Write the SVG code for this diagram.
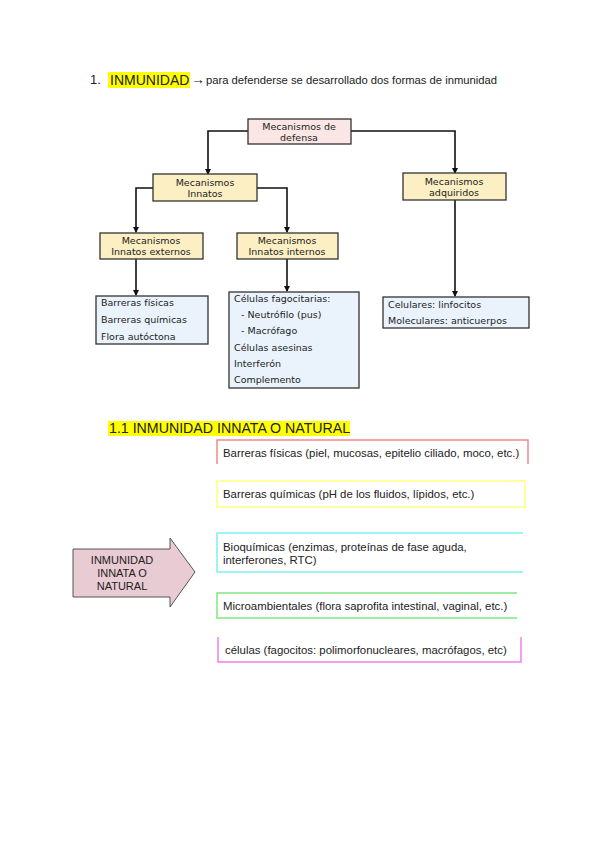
<svg xmlns="http://www.w3.org/2000/svg" width="600" height="848" viewBox="0 0 600 848">
<style>
.d{font-family:"DejaVu Sans",Verdana,sans-serif;font-size:9.5px;fill:#222}
.a{font-family:"Liberation Sans",Arial,sans-serif;fill:#222}
.b{font-size:11.4px}
.nb{stroke:#333;stroke-width:1.3}
.pk{fill:#fbe6e6}
.yl{fill:#fcefc4}
.bl{fill:#eaf3fc}
.ln{fill:none;stroke:#111;stroke-width:1.6}
</style>
<defs>
<marker id="ah" viewBox="0 0 6 6" refX="5" refY="3" markerWidth="4" markerHeight="4" orient="auto">
<path d="M0,0 L6,3 L0,6 z" fill="#111"/>
</marker>
</defs>
<rect width="600" height="848" fill="#fff"/>
<g id="title">
<text class="a" x="90" y="84" font-size="13">1.</text>
<rect x="108" y="72" width="82" height="16" fill="#ffff00"/>
<text class="a" x="110" y="85" font-size="14">INMUNIDAD</text>
<text class="a" x="191" y="84" font-size="14">→</text>
<text class="a" x="206" y="84" font-size="11" textLength="291" lengthAdjust="spacingAndGlyphs">para defenderse se desarrollado dos formas de inmunidad</text>
</g>
<g id="connectors">
<path class="ln" d="M248,131 H208 V174" marker-end="url(#ah)"/>
<path class="ln" d="M351,131 H455 V173" marker-end="url(#ah)"/>
<path class="ln" d="M153,188 H136 V232" marker-end="url(#ah)"/>
<path class="ln" d="M257,188 H287 V232" marker-end="url(#ah)"/>
<path class="ln" d="M136,259 V295" marker-end="url(#ah)"/>
<path class="ln" d="M287,259 V291" marker-end="url(#ah)"/>
<path class="ln" d="M455,200 V296" marker-end="url(#ah)"/>
</g>
<g id="defensa">
<rect class="nb pk" x="248" y="119" width="103" height="25"/>
<text class="d" x="299" y="130" text-anchor="middle">Mecanismos de</text>
<text class="d" x="299" y="141" text-anchor="middle">defensa</text>
</g>
<g id="innatos">
<rect class="nb yl" x="153" y="174" width="104" height="27"/>
<text class="d" x="205" y="186" text-anchor="middle">Mecanismos</text>
<text class="d" x="205" y="197" text-anchor="middle">Innatos</text>
</g>
<g id="adquiridos">
<rect class="nb yl" x="403" y="173" width="103" height="27"/>
<text class="d" x="454" y="185" text-anchor="middle">Mecanismos</text>
<text class="d" x="454" y="196" text-anchor="middle">adquiridos</text>
</g>
<g id="externos">
<rect class="nb yl" x="100" y="233" width="103" height="26"/>
<text class="d" x="151" y="244" text-anchor="middle">Mecanismos</text>
<text class="d" x="151" y="255" text-anchor="middle">Innatos externos</text>
</g>
<g id="internos">
<rect class="nb yl" x="237" y="233" width="101" height="26"/>
<text class="d" x="287" y="244" text-anchor="middle">Mecanismos</text>
<text class="d" x="287" y="255" text-anchor="middle">Innatos internos</text>
</g>
<g id="lista-externos">
<rect class="nb bl" x="96" y="296" width="112" height="48"/>
<text class="d" x="101" y="306">Barreras físicas</text>
<text class="d" x="101" y="323">Barreras químicas</text>
<text class="d" x="101" y="340">Flora autóctona</text>
</g>
<g id="lista-internos">
<rect class="nb bl" x="229" y="292" width="130" height="96"/>
<text class="d" x="234" y="302">Células fagocitarias:</text>
<text class="d" x="241" y="318">- Neutrófilo (pus)</text>
<text class="d" x="241" y="334">- Macrófago</text>
<text class="d" x="234" y="351">Células asesinas</text>
<text class="d" x="234" y="367">Interferón</text>
<text class="d" x="234" y="383">Complemento</text>
</g>
<g id="lista-adquiridos">
<rect class="nb bl" x="383" y="297" width="146" height="31"/>
<text class="d" x="388" y="308">Celulares: linfocitos</text>
<text class="d" x="388" y="324" font-size="9">Moleculares: anticuerpos</text>
</g>
<g id="subtitle">
<rect x="108" y="421" width="242" height="15" fill="#ffff00"/>
<text class="a" x="109" y="433" font-size="14.2">1.1 INMUNIDAD INNATA O NATURAL</text>
</g>
<g id="arrow">
<path d="M73,549 H170 V538 L195,572 L170,607 V597 H73 Z" fill="#e9cbd3" stroke="#555" stroke-width="1"/>
<text class="a" x="122" y="564" font-size="11" text-anchor="middle">INMUNIDAD</text>
<text class="a" x="122" y="577" font-size="11" text-anchor="middle">INNATA O</text>
<text class="a" x="122" y="590" font-size="11" text-anchor="middle">NATURAL</text>
</g>
<g id="fisicas">
<path d="M217,464 V440 H528 V464" fill="none" stroke="#f08a8a" stroke-width="1.5"/>
<text class="a b" x="223" y="457">Barreras físicas (piel, mucosas, epitelio ciliado, moco, etc.)</text>
</g>
<g id="quimicas">
<rect x="217" y="481" width="308" height="26" fill="none" stroke="#ffff80" stroke-width="1.5"/>
<text class="a b" x="223" y="498">Barreras químicas (pH de los fluidos, lípidos, etc.)</text>
</g>
<g id="bioquimicas">
<path d="M523,533 H217 V572 H523" fill="none" stroke="#7ff0f0" stroke-width="1.5"/>
<text class="a b" x="223" y="551">Bioquímicas (enzimas, proteínas de fase aguda,</text>
<text class="a b" x="223" y="564">interferones, RTC)</text>
</g>
<g id="microambientales">
<path d="M517,593 H217 V618 H517" fill="none" stroke="#80e880" stroke-width="1.5"/>
<text class="a b" x="223" y="610">Microambientales (flora saprofita intestinal, vaginal, etc.)</text>
</g>
<g id="celulas">
<path d="M218,637 V662 H521 V637" fill="none" stroke="#f080e8" stroke-width="1.5"/>
<text class="a b" x="225" y="654">células (fagocitos: polimorfonucleares, macrófagos, etc)</text>
</g>
</svg>
